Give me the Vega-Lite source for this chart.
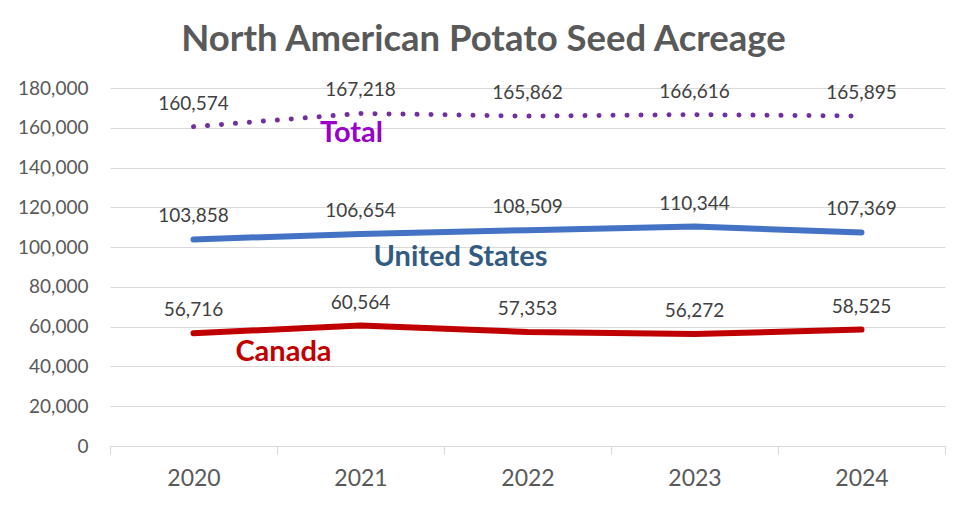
{
  "$schema": "https://vega.github.io/schema/vega-lite/v6.json",
  "width": 835,
  "height": 358,
  "autosize": "none",
  "padding": {"left": 110, "top": 88, "right": 14, "bottom": 67},
  "background": "white",
  "config": {"view": {"stroke": null}},
  "title": {
    "text": "North American Potato Seed Acreage",
    "font": "Lato",
    "fontSize": 36.5,
    "fontWeight": "bold",
    "color": "#595959",
    "anchor": "middle",
    "dx": -44,
    "offset": 21
  },
  "data": {
    "values": [
      {"year": "2020", "series": "Total", "value": 160574},
      {"year": "2021", "series": "Total", "value": 167218},
      {"year": "2022", "series": "Total", "value": 165862},
      {"year": "2023", "series": "Total", "value": 166616},
      {"year": "2024", "series": "Total", "value": 165895},
      {"year": "2020", "series": "United States", "value": 103858},
      {"year": "2021", "series": "United States", "value": 106654},
      {"year": "2022", "series": "United States", "value": 108509},
      {"year": "2023", "series": "United States", "value": 110344},
      {"year": "2024", "series": "United States", "value": 107369},
      {"year": "2020", "series": "Canada", "value": 56716},
      {"year": "2021", "series": "Canada", "value": 60564},
      {"year": "2022", "series": "Canada", "value": 57353},
      {"year": "2023", "series": "Canada", "value": 56272},
      {"year": "2024", "series": "Canada", "value": 58525}
    ]
  },
  "encoding": {
    "x": {
      "field": "year",
      "type": "ordinal",
      "scale": {"type": "band", "paddingInner": 0, "paddingOuter": 0},
      "axis": {
        "title": null,
        "labelAngle": 0,
        "labelFont": "Lato",
        "labelFontSize": 23,
        "labelColor": "#595959",
        "labelPadding": 13,
        "domainColor": "#d9d9d9",
        "tickColor": "#d9d9d9",
        "tickSize": 8,
        "tickBand": "extent",
        "grid": false
      }
    },
    "y": {
      "field": "value",
      "type": "quantitative",
      "scale": {"domain": [0, 180000], "nice": false},
      "axis": {
        "title": null,
        "values": [0, 20000, 40000, 60000, 80000, 100000, 120000, 140000, 160000, 180000],
        "format": ",d",
        "domain": false,
        "ticks": false,
        "tickSize": 0,
        "labelPadding": 22,
        "labelFont": "Lato",
        "labelFontSize": 19,
        "labelColor": "#595959",
        "gridColor": "#d9d9d9",
        "gridWidth": 1
      }
    }
  },
  "layer": [
    {
      "transform": [{"filter": "datum.series === 'Total'"}],
      "mark": {"type": "line", "color": "#7030a0", "strokeWidth": 5, "strokeCap": "round", "strokeDash": [0.1, 13.9]}
    },
    {
      "transform": [{"filter": "datum.series === 'United States'"}],
      "mark": {"type": "line", "color": "#4472c4", "strokeWidth": 6, "strokeCap": "round"}
    },
    {
      "transform": [{"filter": "datum.series === 'Canada'"}],
      "mark": {"type": "line", "color": "#c00000", "strokeWidth": 6, "strokeCap": "round"}
    },
    {
      "mark": {"type": "text", "font": "Lato", "fontSize": 19, "color": "#404040", "dy": -23, "baseline": "middle"},
      "encoding": {"text": {"field": "value", "type": "quantitative", "format": ",d"}}
    },
    {
      "data": {"values": [{"year": "2021", "value": 157400, "label": "Total"}]},
      "mark": {"type": "text", "font": "Lato", "fontSize": 29, "fontWeight": "bold", "color": "#9900cc", "dx": -9, "baseline": "middle"},
      "encoding": {"text": {"field": "label"}}
    },
    {
      "data": {"values": [{"year": "2021", "value": 95000, "label": "United States"}]},
      "mark": {"type": "text", "font": "Lato", "fontSize": 29, "fontWeight": "bold", "color": "#335b82", "dx": 100, "baseline": "middle"},
      "encoding": {"text": {"field": "label"}}
    },
    {
      "data": {"values": [{"year": "2020", "value": 47300, "label": "Canada"}]},
      "mark": {"type": "text", "font": "Lato", "fontSize": 29, "fontWeight": "bold", "color": "#c00000", "dx": 90, "baseline": "middle"},
      "encoding": {"text": {"field": "label"}}
    }
  ]
}
